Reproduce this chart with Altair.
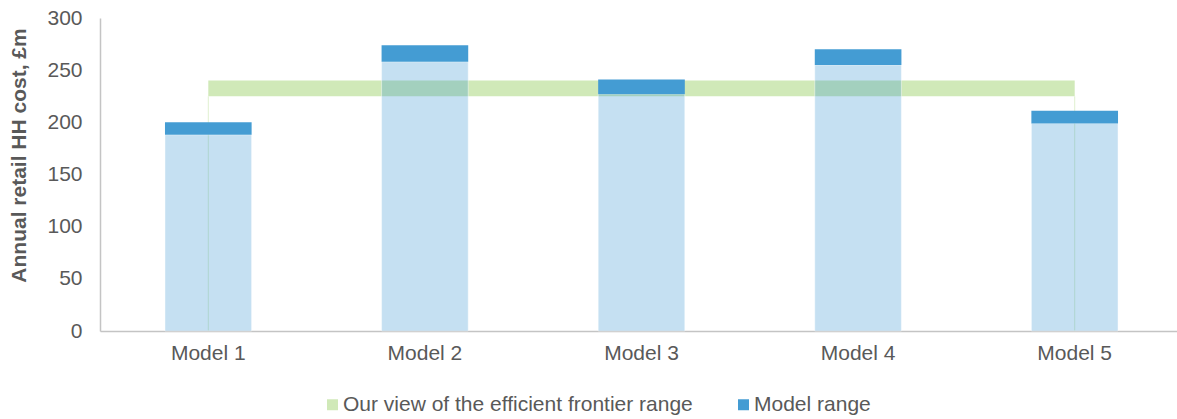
import altair as alt
import pandas as pd

models = ["Model 1", "Model 2", "Model 3", "Model 4", "Model 5"]
model_low = [188, 258, 227, 255, 199]
model_high = [200, 274, 241, 270, 211]
frontier_low = [225, 225, 225, 225, 225]
frontier_high = [240, 240, 240, 240, 240]

series_frontier = "Our view of the efficient frontier range"
series_model = "Model range"

df = pd.DataFrame({
    "model": models,
    "low": model_low,
    "high": model_high,
    "f_low": frontier_low,
    "f_high": frontier_high,
})
df["zero"] = 0
df["s_frontier"] = series_frontier
df["s_model"] = series_model
edge_df = df[df["model"].isin([models[0], models[-1]])]

FONT = "Liberation Sans"
GREY = "#595959"
FS = 21

xenc = alt.X("model:N", sort=models,
             scale=alt.Scale(paddingInner=0.6, paddingOuter=0.3, range=[0, 1083]),
             axis=alt.Axis(title=None, labelAngle=0, labelFontSize=FS, labelColor=GREY,
                           labelFont=FONT, ticks=False, domainColor="#C4C4C4",
                           domainWidth=1.5, labelPadding=11))
yscale = alt.Scale(domain=[0, 300], nice=False)
yaxis = alt.Axis(title="Annual retail HH cost, £m", values=[0, 50, 100, 150, 200, 250, 300],
                 grid=False, ticks=False, labelFontSize=FS, labelColor=GREY, labelFont=FONT,
                 labelPadding=18, domainColor="#C4C4C4", domainWidth=1.5,
                 titleFont=FONT, titleFontSize=FS, titleFontWeight="bold", titleColor=GREY,
                 titleX=-81, titleY=137, titleAlign="center", titleBaseline="middle",
                 titleAngle=270)

cscale = alt.Scale(domain=[series_frontier, series_model], range=["#D0E9B8", "#449CD3"])
clegend = alt.Legend(title=None, orient="none", direction="horizontal",
                     legendX=222, legendY=376, symbolType="square",
                     symbolSize=121, symbolStrokeWidth=0, labelFontSize=FS,
                     labelColor=GREY, labelFont=FONT, columnPadding=40,
                     symbolOpacity=1, labelOffset=0, labelLimit=0)

area = alt.Chart(df).mark_area(opacity=1).encode(
    x=xenc,
    y=alt.Y("f_high:Q", scale=yscale, axis=yaxis),
    y2="f_low:Q",
    color=alt.Color("s_frontier:N", scale=cscale, legend=clegend, title=None),
)

rules = alt.Chart(edge_df).mark_rule(color="#E0F0D0", strokeWidth=1).encode(
    x=xenc,
    y=alt.Y("zero:Q", scale=yscale),
    y2="f_low:Q",
)

light = alt.Chart(df).mark_bar(color="#2E8FD0", fillOpacity=0.28, stroke="#FFFFFF",
                               strokeOpacity=0.45, strokeWidth=1).encode(
    x=xenc,
    y=alt.Y("zero:Q", scale=yscale),
    y2="low:Q",
)

dark = alt.Chart(df).mark_bar(opacity=1).encode(
    x=xenc,
    y=alt.Y("high:Q", scale=yscale),
    y2="low:Q",
    color=alt.Color("s_model:N", scale=cscale, legend=clegend, title=None),
)

chart = alt.layer(area, rules, light, dark).properties(
    width=1077, height=313,
    padding={"left": 100, "top": 18, "right": 0, "bottom": 88},
    autosize=alt.AutoSizeParams(type="none"),
    background="white",
).configure_view(stroke=None).resolve_scale(color="shared")

chart.save("out.html", embed_options={"renderer": "svg", "actions": False})
